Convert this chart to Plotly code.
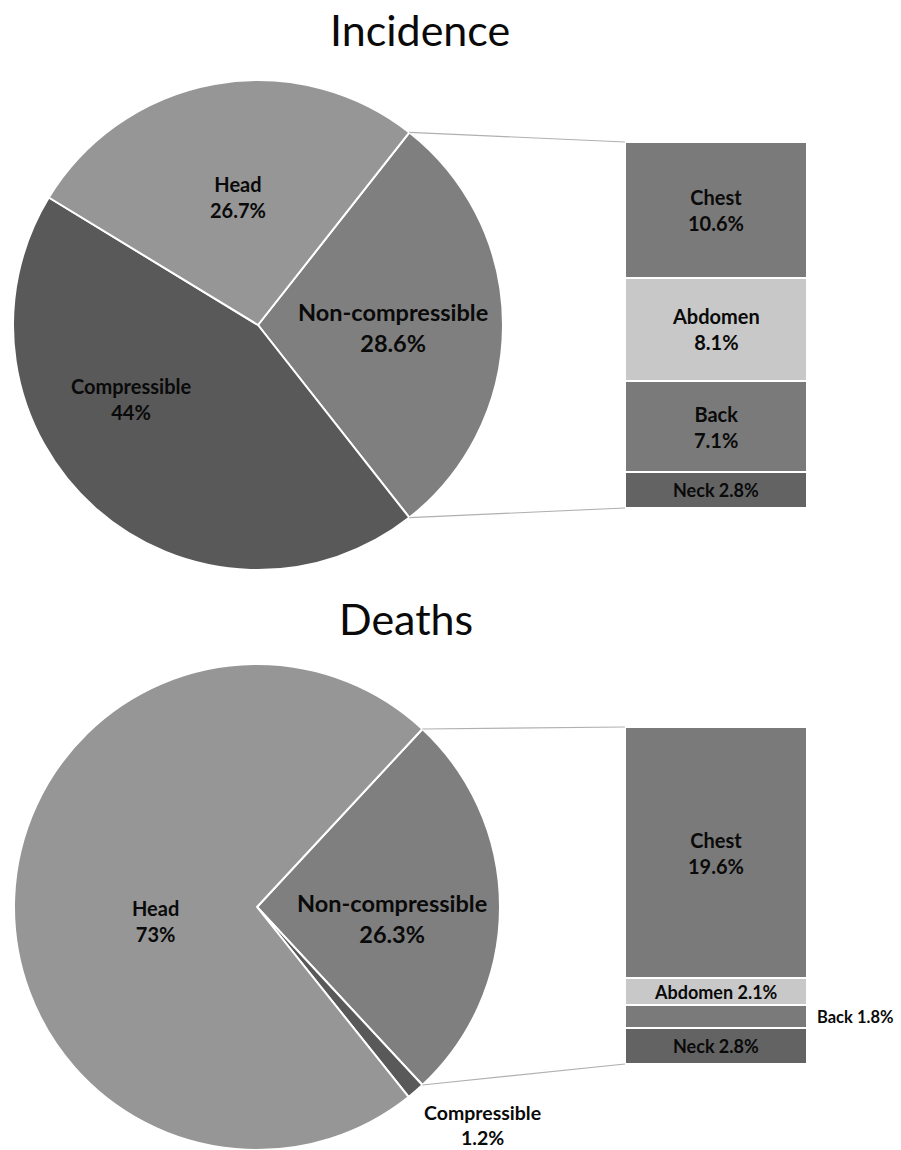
import math
import plotly.graph_objects as go

W, H = 901, 1150

# ---------------- data ----------------
pie_labels = ["Non-compressible", "Compressible", "Head"]
inc_pie_values = [28.6, 44.0, 26.7]
death_pie_values = [26.3, 1.2, 73.0]

bar_labels = ["Chest", "Abdomen", "Back", "Neck"]
inc_bar_values = [10.6, 8.1, 7.1, 2.8]
death_bar_values = [19.6, 2.1, 1.8, 2.8]

titles = ["Incidence", "Deaths"]

# ---------------- styles / layout ----------------
FONT = "Lato"
pie_colors = ["#7f7f7f", "#595959", "#969696"]
bar_colors = ["#7a7a7a", "#c8c8c8", "#7a7a7a", "#636363"]
pie_boxes = [(13, 80, 503, 570), (14, 664, 500, 1150)]      # x0, y0, x1, y1 (px)
bar_boxes = [(625, 142, 807, 508), (625, 727, 807, 1064)]
title_pos = [(420, 30), (406, 618)]
# label anchor: (radius fraction, clock angle in deg, font size)
pie_label_pos = [
    [(0.55, 91, 23.5), (0.60, 240, 20), (0.53, 351, 20)],
    [(0.557, 94.7, 23.5), (1.29, 134, 19.5), (0.42, 262, 20)],
]
bar_label_twoline = [[True, True, True, False], [True, False, False, False]]
bar_label_outside = [[False, False, False, False], [False, False, True, False]]
outside_label_x = 815
OUTSIDE_FS = 16.5
BAR_FS_TWO = 20
BAR_FS_ONE = 18

def fmt(v):
    return f"{v:g}%"

fig = go.Figure()
shapes, annotations = [], []

for i, (pvals, bvals) in enumerate([(inc_pie_values, inc_bar_values),
                                     (death_pie_values, death_bar_values)]):
    x0, y0, x1, y1 = pie_boxes[i]
    total = sum(pvals)
    span = pvals[0] / total * 360.0
    rotation = 90 - span / 2
    fig.add_trace(go.Pie(
        labels=pie_labels, values=pvals, sort=False, direction="clockwise",
        rotation=rotation, textinfo="none", hoverinfo="label+value",
        marker=dict(colors=pie_colors, line=dict(color="white", width=2)),
        domain=dict(x=[x0 / W, x1 / W], y=[1 - y1 / H, 1 - y0 / H]),
        showlegend=False,
    ))
    cx, cy = (x0 + x1) / 2, (y0 + y1) / 2
    r = min(x1 - x0, y1 - y0) / 2

    # pie labels
    for lab, v, (rf, ang, fs) in zip(pie_labels, pvals, pie_label_pos[i]):
        a = math.radians(ang)
        px = cx + rf * r * math.sin(a)
        py = cy - rf * r * math.cos(a)
        annotations.append(dict(
            x=px / W, y=1 - py / H, xref="paper", yref="paper",
            text=f"<b>{lab}<br>{fmt(v)}</b>", showarrow=False,
            xanchor="center", yanchor="middle",
            font=dict(family=FONT, size=fs, color="#0a0a0a"),
        ))

    # stacked bar
    bx0, by0, bx1, by1 = bar_boxes[i]
    xa = "xaxis" if i == 0 else "xaxis2"
    ya = "yaxis" if i == 0 else "yaxis2"
    xr = "x" if i == 0 else "x2"
    yr = "y" if i == 0 else "y2"
    btotal = sum(bvals)
    order = list(range(len(bvals)))[::-1]
    for k in order:
        fig.add_trace(go.Bar(
            x=[0], y=[bvals[k]], width=[1], xaxis=xr, yaxis=yr,
            marker=dict(color=bar_colors[k], line=dict(color="white", width=2)),
            name=bar_labels[k], showlegend=False, hoverinfo="name+y",
        ))
    fig.layout[xa] = dict(domain=[bx0 / W, bx1 / W], range=[-0.5, 0.5], visible=False,
                          anchor=yr, fixedrange=True)
    fig.layout[ya] = dict(domain=[1 - by1 / H, 1 - by0 / H], range=[0, btotal],
                          visible=False, anchor=xr, fixedrange=True)
    # bar labels
    cum = 0.0
    mids = {}
    for k in order:
        mids[k] = cum + bvals[k] / 2
        cum += bvals[k]
    for k in range(len(bvals)):
        sep = "<br>" if bar_label_twoline[i][k] else " "
        txt = f"<b>{bar_labels[k]}{sep}{fmt(bvals[k])}</b>"
        fs = BAR_FS_TWO if bar_label_twoline[i][k] else BAR_FS_ONE
        if bar_label_outside[i][k]:
            ymid_px = by1 - (mids[k] / btotal) * (by1 - by0)
            annotations.append(dict(
                x=outside_label_x / W, y=1 - ymid_px / H, xref="paper", yref="paper",
                text=txt, showarrow=False, xanchor="left", yanchor="middle",
                font=dict(family=FONT, size=OUTSIDE_FS, color="#0a0a0a")))
        else:
            annotations.append(dict(
                x=0, y=mids[k], xref=xr, yref=yr, text=txt, showarrow=False,
                xanchor="center", yanchor="middle",
                font=dict(family=FONT, size=fs, color="#0a0a0a")))

    # connector lines: pie edge (start / end of first slice) -> bar corners
    for ang, by in [(rotation, by0), (rotation + span, by1)]:
        a = math.radians(ang)
        px = cx + r * math.sin(a)
        py = cy - r * math.cos(a)
        shapes.append(dict(type="line", xref="paper", yref="paper",
                           x0=px / W, y0=1 - py / H, x1=bx0 / W, y1=1 - by / H,
                           line=dict(color="#b0b0b0", width=1.2)))

    tx, ty = title_pos[i]
    annotations.append(dict(x=tx / W, y=1 - ty / H, xref="paper", yref="paper",
                            text=titles[i], showarrow=False, xanchor="center",
                            yanchor="middle",
                            font=dict(family=FONT, size=43, color="#0a0a0a")))

fig.update_layout(
    width=W, height=H, margin=dict(l=0, r=0, t=0, b=0),
    paper_bgcolor="white", plot_bgcolor="white",
    barmode="stack", bargap=0,
    shapes=shapes, annotations=annotations, showlegend=False,
)

fig.write_html("out.html", config={"displayModeBar": False})
